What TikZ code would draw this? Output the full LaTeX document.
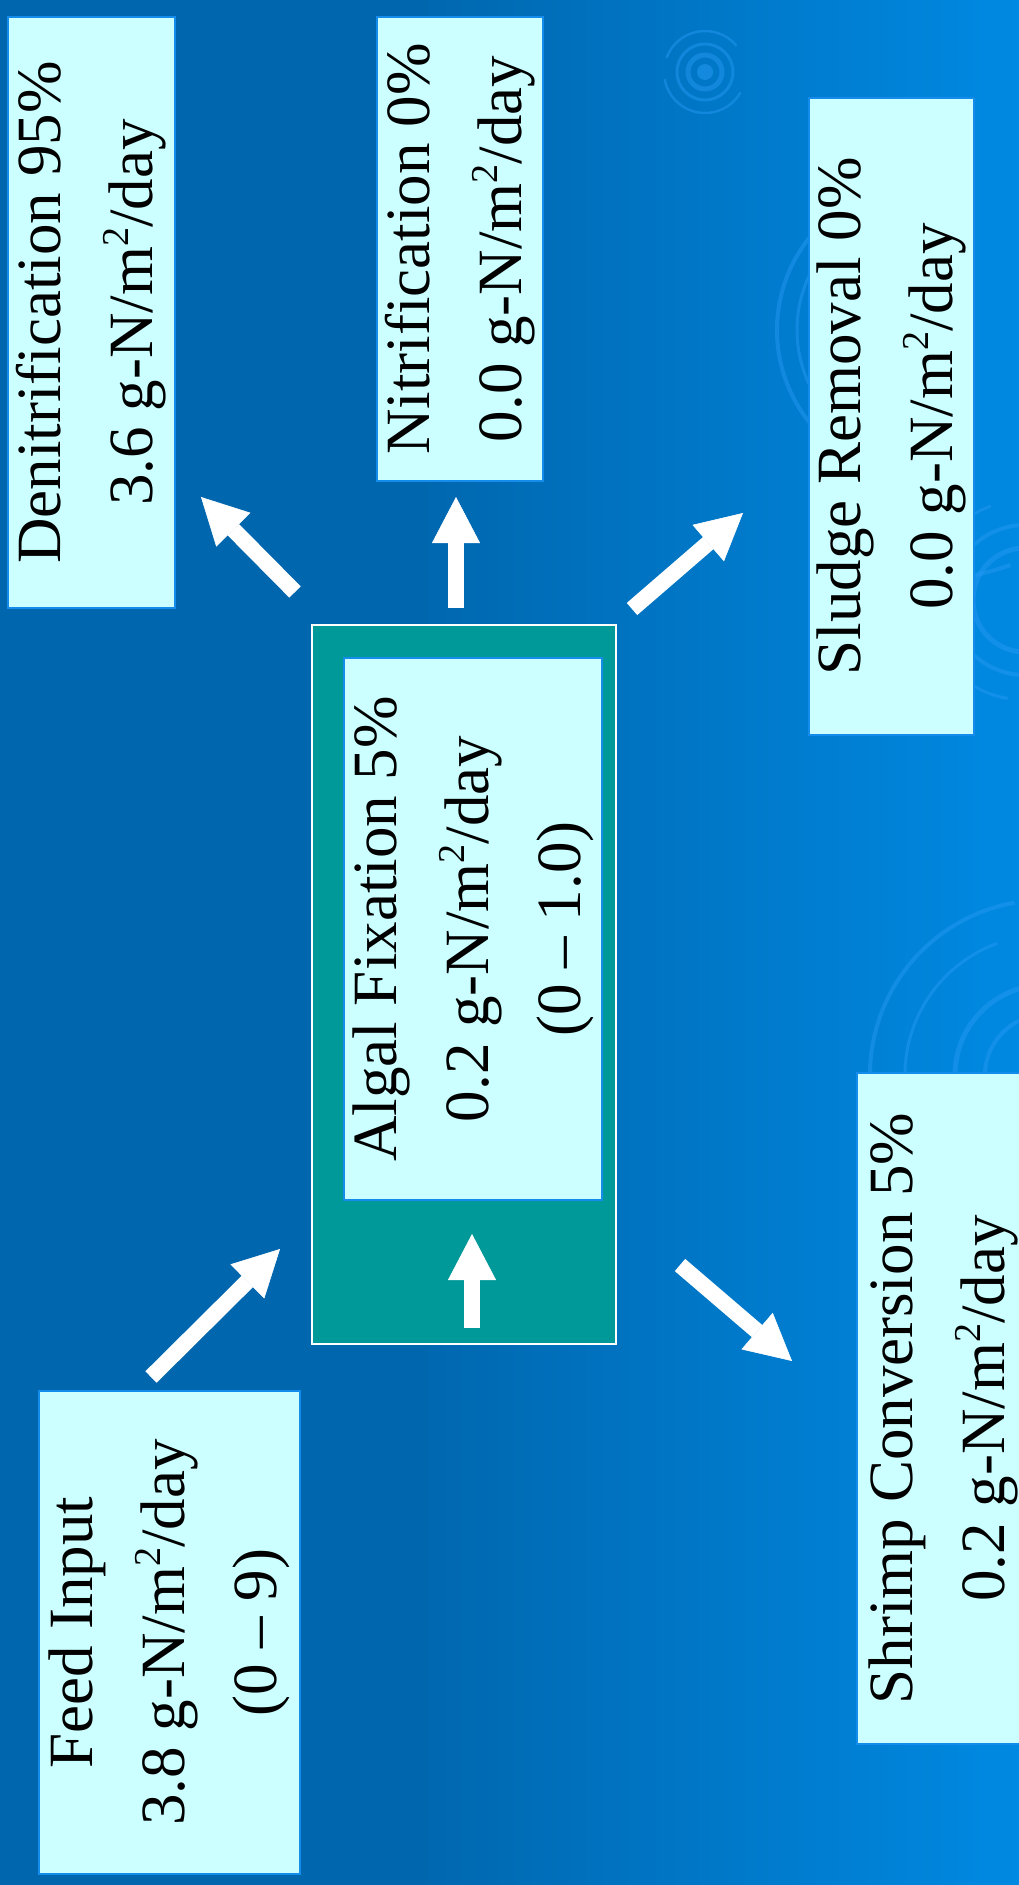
\documentclass[tikz,border=0pt]{standalone}
\usepackage{fontspec}
\setmainfont{Liberation Serif}
\usetikzlibrary{arrows.meta}
\definecolor{bgdark}{RGB}{0,102,173}
\definecolor{bglight}{RGB}{0,137,226}
\definecolor{boxfill}{RGB}{204,255,255}
\definecolor{boxline}{RGB}{20,140,235}
\definecolor{algalgreen}{RGB}{0,153,153}
\definecolor{ringcol}{RGB}{40,155,245}
\newcommand{\msqr}{m\raisebox{24pt}{\fontsize{38pt}{38pt}\selectfont 2}}
\begin{document}
\begin{tikzpicture}[x=1pt,y=-1pt,
  lbox/.style={draw=boxline, line width=1.5pt, fill=boxfill, rotate=90, inner sep=0pt,
    align=center, font=\fontsize{63pt}{92pt}\selectfont, text=black},
  blockarrow/.style={draw=white, line width=16pt,
    -{Triangle[width=48pt,length=46pt,line width=0.5pt]}},
  ring/.style={draw=ringcol, opacity=0.45}]
\useasboundingbox (0,0) rectangle (1019,1885);
\clip (0,0) rectangle (1019,1885);
% background
\fill[bgdark] (0,0) rectangle (1019,1885);
\shade[left color=bgdark, right color=bglight] (400,0) rectangle (1019,1885);
% decorative rings
\fill[ringcol, opacity=0.5] (705,72) circle (8);
\draw[ring, line width=5pt] (705,72) circle (17);
\draw[ring, line width=3pt] (705,72) circle (28);
\draw[ring, line width=2.5pt] (705,72) ++(30:41) arc (30:170:41);
\draw[ring, line width=2.5pt] (705,72) ++(200:41) arc (200:320:41);
\draw[ring, line width=4pt] (925,330) ++(100:148) arc (100:255:148);
\draw[ring, line width=3pt] (925,330) ++(120:128) arc (120:235:128);
\draw[ring, line width=4pt] (925,330) ++(70:250) arc (70:100:250);
\draw[ring, line width=5pt] (1025,600) circle (52);
\draw[ring, line width=4pt] (1025,600) circle (75);
\draw[ring, line width=3pt] (1025,600) ++(100:100) arc (100:250:100);
\draw[ring, line width=4pt] (1045,1075) ++(105:175) arc (105:260:175);
\draw[ring, line width=3pt] (1045,1075) ++(120:140) arc (120:250:140);
\draw[ring, line width=5pt] (1045,1075) circle (90);
\draw[ring, line width=4pt] (1045,1075) circle (60);
% central green box
\node[draw=white, line width=2pt, fill=algalgreen, minimum width=304pt,
  minimum height=719pt, inner sep=0pt] (green) at (464,984.5) {};
% boxes
\node[lbox, minimum width=591pt, minimum height=167pt] (denit) at (91.5,312.5)
  {Denitrification 95\%\\3.6 g-N/\msqr/day};
\node[lbox, minimum width=464pt, minimum height=166pt] (nit) at (460,249)
  {Nitrification 0\%\\0.0 g-N/\msqr/day};
\node[lbox, minimum width=637pt, minimum height=165pt] (sludge) at (891.5,416.5)
  {Sludge Removal 0\%\\0.0 g-N/\msqr/day};
\node[lbox, minimum width=542pt, minimum height=258pt] (algal) at (473,929)
  {Algal Fixation 5\%\\0.2 g-N/\msqr/day\\(0 -- 1.0)};
\node[lbox, minimum width=483pt, minimum height=261pt] (feed) at (169.5,1632.5)
  {Feed Input\\3.8 g-N/\msqr/day\\(0 -- 9)};
\node[lbox, minimum width=671pt, minimum height=173pt] (shrimp) at (943.5,1408.5)
  {Shrimp Conversion 5\%\\0.2 g-N/\msqr/day};
% arrow ends
\coordinate (d1) at (295,592);  \coordinate (d2) at (201,497);
\coordinate (n1) at (456,608);  \coordinate (n2) at (456,497);
\coordinate (s1) at (632,609);  \coordinate (s2) at (743,513);
\coordinate (f1) at (151,1377); \coordinate (f2) at (280,1249);
\coordinate (r1) at (680,1265); \coordinate (r2) at (792,1361);
\coordinate (i1) at (472,1328); \coordinate (i2) at (472,1234);
\draw[blockarrow] (d1) -- (d2);
\draw[blockarrow] (n1) -- (n2);
\draw[blockarrow] (s1) -- (s2);
\draw[blockarrow] (f1) -- (f2);
\draw[blockarrow] (r1) -- (r2);
\draw[blockarrow] (i1) -- (i2);
\end{tikzpicture}
\end{document}
